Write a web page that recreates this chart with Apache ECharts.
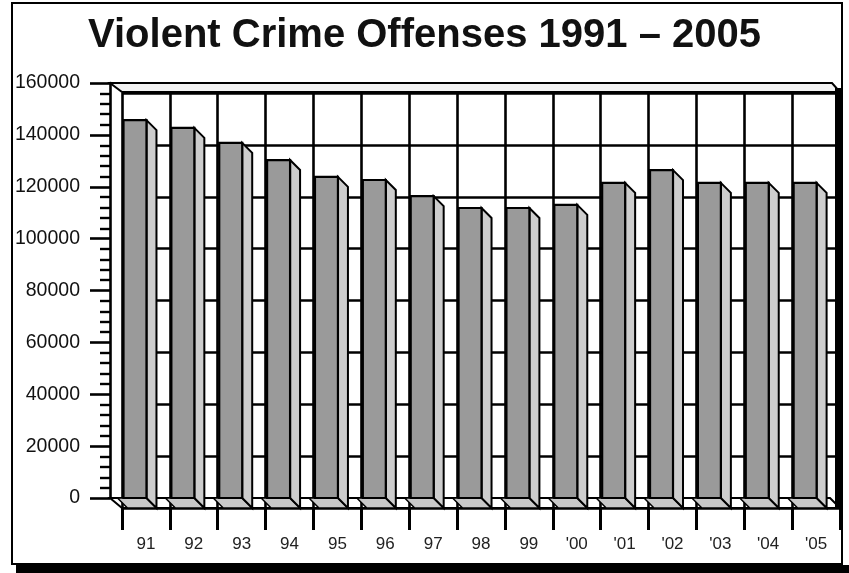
<!DOCTYPE html>
<html>
<head>
<meta charset="utf-8">
<script src="https://cdn.jsdelivr.net/npm/echarts@6/dist/echarts.min.js"></script>
<style>
html,body{margin:0;padding:0;background:#fff;}
#c{width:849px;height:573px;}
</style>
</head>
<body>
<div id="c"></div>
<script>
// ---- data ----
const categories = ['91','92','93','94','95','96','97','98','99',"'00","'01","'02","'03","'04","'05"];
const offenses = [145700,142700,136900,130300,123800,122600,116400,111800,111800,113000,121500,126400,121500,121500,121500];
const yTickLabels = ['0','20000','40000','60000','80000','100000','120000','140000','160000'];
const titleText = 'Violent Crime Offenses 1991 \u2013 2005';

const FONT = '"Liberation Sans", Arial, sans-serif';
const chart = echarts.init(document.getElementById('c'), null, {renderer:'canvas'});

const barData = offenses.map((v,i)=>[i,v]);

function renderBar(params, api){
  const i = api.value(0), v = api.value(1);
  const top = api.coord([i, v]);
  const base = api.coord([i, 0]);
  const bw = api.size([1,0])[0];
  const l = top[0] - bw/2 + 1.5;
  const r = l + bw*0.48;
  const dx = 10, dy = 10;
  return {
    type:'group',
    children:[
      {type:'polygon', shape:{points:[[l-6,base[1]],[r,base[1]],[r+dx,base[1]+dy],[l+4,base[1]+dy]]},
       style:{fill:'#c8c8c8', stroke:'#000', lineWidth:1.5}},
      {type:'polygon', shape:{points:[[r,top[1]],[r+dx,top[1]+dy],[r+dx,base[1]+dy],[r,base[1]]]},
       style:{fill:'#cdcdcd', stroke:'#000', lineWidth:2}},
      {type:'rect', shape:{x:l, y:top[1], width:r-l, height:base[1]-top[1]},
       style:{fill:'#9a9a9a', stroke:'#000', lineWidth:2.2}}
    ]
  };
}

const option = {
  backgroundColor:'#fff',
  animation:false,
  title:{
    text:titleText, left:'center', top:11,
    textStyle:{fontFamily:FONT, fontSize:40, fontWeight:'bold', color:'#111'}
  },
  grid:[
    {left:122, top:83, width:718, height:415, containLabel:false},
    {left:122, top:93, width:718, height:415, containLabel:false}
  ],
  xAxis:[
    {type:'category', gridIndex:0, data:categories, boundaryGap:true,
     axisLine:{show:false}, axisTick:{show:false}, axisLabel:{show:false}, splitLine:{show:false}},
    {type:'category', gridIndex:1, data:categories, boundaryGap:true,
     axisLine:{show:true, lineStyle:{color:'#000', width:2}},
     axisTick:{show:true, interval:0, length:22, lineStyle:{color:'#000', width:3}},
     axisLabel:{show:true, interval:0, margin:28, fontSize:17, fontFamily:FONT, color:'#222'},
     splitLine:{show:true, interval:0, lineStyle:{color:'#000', width:2.6}}}
  ],
  yAxis:[
    {type:'value', gridIndex:0, min:0, max:160000, interval:20000, offset:12,
     axisLine:{show:true, lineStyle:{color:'#000', width:2.6}},
     axisTick:{show:true, length:20, lineStyle:{color:'#000', width:2.6}},
     minorTick:{show:true, splitNumber:5, length:10, lineStyle:{color:'#000', width:2.4}},
     axisLabel:{show:true, margin:30, fontSize:19.5, fontFamily:FONT, color:'#111',
       formatter:(v)=>yTickLabels[Math.round(v/20000)]},
     splitLine:{show:false}},
    {type:'value', gridIndex:1, min:0, max:160000, interval:20000,
     axisLine:{show:false}, axisTick:{show:false}, axisLabel:{show:false},
     splitLine:{show:true, lineStyle:{color:'#000', width:2.6}}}
  ],
  graphic:[
    // outer frame
    {type:'rect', z:-10, silent:true, shape:{x:12, y:3, width:830, height:561},
     style:{fill:'#fff', stroke:'#000', lineWidth:2}},
    {type:'rect', z:-9, silent:true, shape:{x:16, y:565, width:833, height:8},
     style:{fill:'#000'}},
    // floor
    {type:'polygon', z:-1, silent:true, shape:{points:[[110,498],[830,498],[840,508],[122,508]]},
     style:{fill:'#fff', stroke:'#000', lineWidth:2}},
    // ceiling face
    {type:'polygon', z:50, silent:true, shape:{points:[[110,83],[832,83],[840,92],[122,92]]},
     style:{fill:'#f2f2f2', stroke:'#000', lineWidth:2}},
    // right edge of box
    {type:'rect', z:50, silent:true, shape:{x:835, y:88, width:7, height:420},
     style:{fill:'#000'}}
  ],
  series:[
    {type:'custom', xAxisIndex:0, yAxisIndex:0, data:barData, renderItem:renderBar, z:10, clip:false}
  ]
};
chart.setOption(option);
</script>
</body>
</html>
